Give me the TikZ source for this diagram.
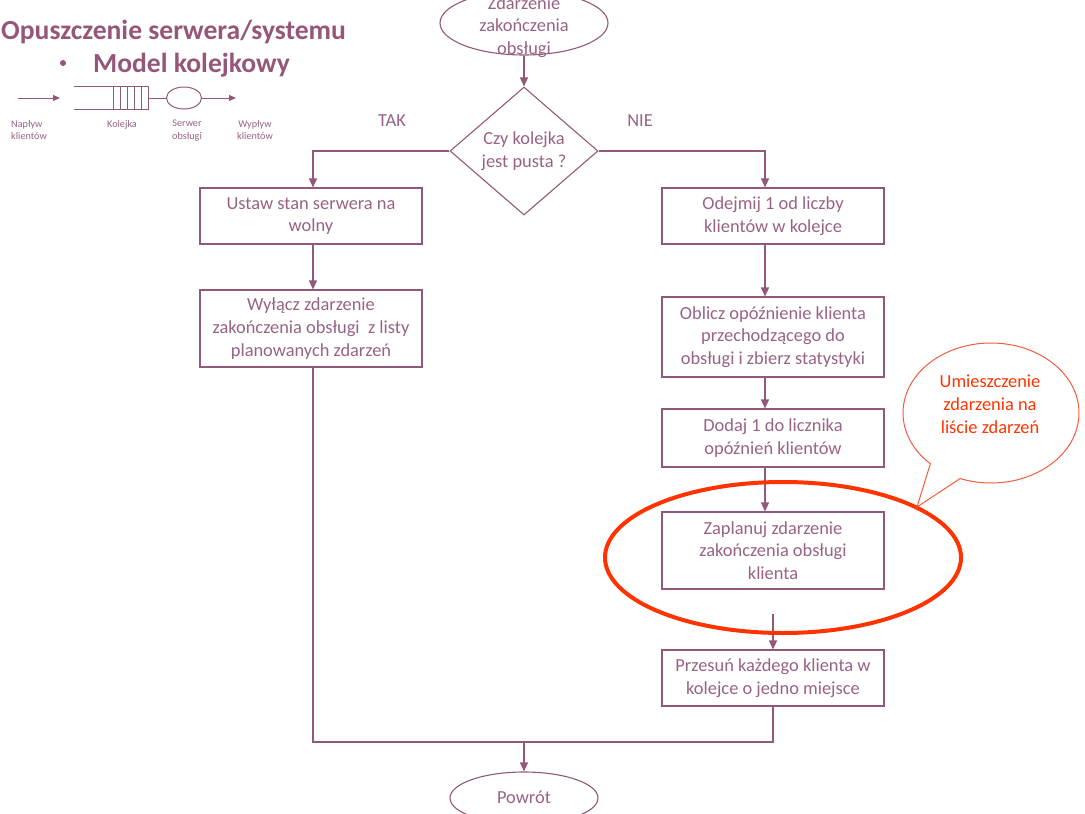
\documentclass[tikz,border=0pt]{standalone}
\usepackage{fontspec}
\setmainfont{Carlito}
\usepackage{tikz}
\usetikzlibrary{arrows.meta}
\usetikzlibrary{positioning}
\usetikzlibrary{shapes.geometric, shapes.callouts}
\definecolor{mauve}{RGB}{146,88,122}
\definecolor{txtmauve}{RGB}{152,98,132}
\definecolor{titlemauve}{RGB}{150,86,122}
\definecolor{redorange}{RGB}{255,51,0}
\definecolor{bubblered}{RGB}{242,92,60}
\newcommand{\bodyfont}{\fontsize{18.4}{22.8}\selectfont}
\newcommand{\tinyfont}{\fontsize{10.2}{12.5}\selectfont}
\newcommand{\titlefont}{\fontsize{27.6}{30}\selectfont\bfseries}

\begin{document}
\begin{tikzpicture}[x=1pt, y=-1pt, % 1 Pixel = 1pt
  box/.style={draw=mauve, line width=1.1pt, rectangle, minimum width=222pt, align=center, text=txtmauve, font=\bodyfont, inner sep=0pt},
  txt/.style={align=center, text=txtmauve, font=\bodyfont, inner sep=0pt},
  arr/.style={draw=mauve, line width=1.1pt, -{Triangle[length=9pt,width=8pt]}},
  smallarr/.style={draw=mauve, line width=1pt, -{Triangle[length=7pt,width=6pt]}},
  line/.style={draw=mauve, line width=1.1pt}]

\useasboundingbox (0,0) rectangle (1085,814);

% Titel und Modell
\node (titel) [anchor=west, text=titlemauve, font=\titlefont, inner sep=0pt] at (1,32) {Opuszczenie serwera/systemu};
\node (punkt) [circle, fill=titlemauve, inner sep=0pt, minimum size=6pt] at (63,63) {};
\node (modell) [anchor=west, text=titlemauve, font=\titlefont, inner sep=0pt] at (93,65) {Model kolejkowy};

\coordinate (zuA) at (18,98);
\coordinate (zuB) at (60,98);
\coordinate (qA) at (148,98);
\coordinate (abB) at (236,98);
\draw[smallarr] (zuA) -- (zuB);
\draw[line, line width=1pt] (74,86) -- (148,86) -- (148,109) -- (74,109);
\foreach \x in {113,120,127,134,141} {
  \draw[line, line width=1pt] (\x,86) -- (\x,109);
}
\node (serwer) [ellipse, draw=mauve, line width=1pt, minimum width=35pt, minimum height=22pt, inner sep=0pt] at (184,98) {};
\draw[line, line width=1pt] (qA) -- (serwer.west);
\draw[smallarr] (serwer.east) -- (abB);
\node (lzu) [anchor=north west, align=left, text=txtmauve, font=\tinyfont, inner sep=0pt] at (11,120) {Napływ\\klientów};
\node (lkol) [anchor=north, text=txtmauve, font=\tinyfont, inner sep=0pt] at (122,120) {Kolejka};
\node (lser) [anchor=north, align=center, text=txtmauve, font=\tinyfont, inner sep=0pt] at (187,120) {Serwer\\obsługi};
\node (lab) [anchor=north, align=center, text=txtmauve, font=\tinyfont, inner sep=0pt] at (255,120) {Wypływ\\klientów};

% Ablaufdiagramm
\node (start) [ellipse, draw=mauve, line width=1.1pt, minimum width=168pt, minimum height=64pt] at (524,23) {};
\node (starttxt) [txt] at (524,27) {Zdarzenie\\zakończenia\\obsługi};
\node (frage) [diamond, draw=mauve, line width=1.1pt, minimum width=148pt, minimum height=128pt, inner sep=0pt] at (524,151) {};
\node (fragetxt) [txt] at (524,151) {Czy kolejka\\jest pusta ?};
\node (tak) [txt] at (392,121) {TAK};
\node (nie) [txt] at (640,121) {NIE};

\node (L1) [box, minimum height=56pt] at (311,216) {Ustaw stan serwera na\\wolny};
\node (L2) [box, minimum height=77pt] at (311,328.5) {Wyłącz zdarzenie\\zakończenia obsługi~~z listy\\planowanych zdarzeń};

\node (R1) [box, minimum height=56pt] at (773,216) {Odejmij 1 od liczby\\klientów w kolejce};
\node (R2) [box, minimum height=80pt] at (773,337) {Oblicz opóźnienie klienta\\przechodzącego do\\obsługi i zbierz statystyki};
\node (R3) [box, minimum height=58pt] at (773,438) {Dodaj 1 do licznika\\opóźnień klientów};
\node (R4) [box, minimum height=77pt] at (773,550.5) {Zaplanuj zdarzenie\\zakończenia obsługi\\klienta};
\node (R5) [box, minimum height=56pt] at (773,678) {Przesuń każdego klienta w\\kolejce o jedno miejsce};

\node (ende) [ellipse, draw=mauve, line width=1.1pt, minimum width=148pt, minimum height=52pt] at (524,798) {};
\node (endetxt) [txt] at (524,797) {Powrót};

% Verbindungen
\draw[arr] (start.south) -- (frage.north);
\draw[arr] (frage.west) -| ([xshift=2pt]L1.north);
\draw[arr] ([xshift=2pt]L1.south) -- ([xshift=2pt]L2.north);
\draw[arr] (frage.east) -| ([xshift=-8pt]R1.north);
\draw[arr] ([xshift=-8pt]R1.south) -- ([xshift=-8pt]R2.north);
\draw[arr] ([xshift=-8pt]R2.south) -- ([xshift=-8pt]R3.north);
\draw[arr] ([xshift=-8pt]R3.south) -- ([xshift=-8pt]R4.north);
\draw[arr] ([yshift=-24pt]R4.south) -- (R5.north);
\coordinate (knoten) at (524,742);
\draw[line] ([xshift=2pt]L2.south) |- (knoten) -| (R5.south);
\draw[arr] (knoten) -- (ende.north);

% Markierung und Sprechblase
\node (markierung) [ellipse, draw=redorange, line width=4pt, minimum width=356pt, minimum height=151pt] at (783,557.5) {};
\coordinate (spitze) at (917,507);
\node (blase) [ellipse callout, draw=bubblered, line width=1pt, callout absolute pointer={(spitze)}, callout pointer arc=23, minimum width=176pt, minimum height=140pt] at (991,413) {};
\node (blasetxt) [align=center, text=redorange, font=\bodyfont, inner sep=0pt] at (990,404) {Umieszczenie\\zdarzenia na\\liście zdarzeń};

\end{tikzpicture}
\end{document}
